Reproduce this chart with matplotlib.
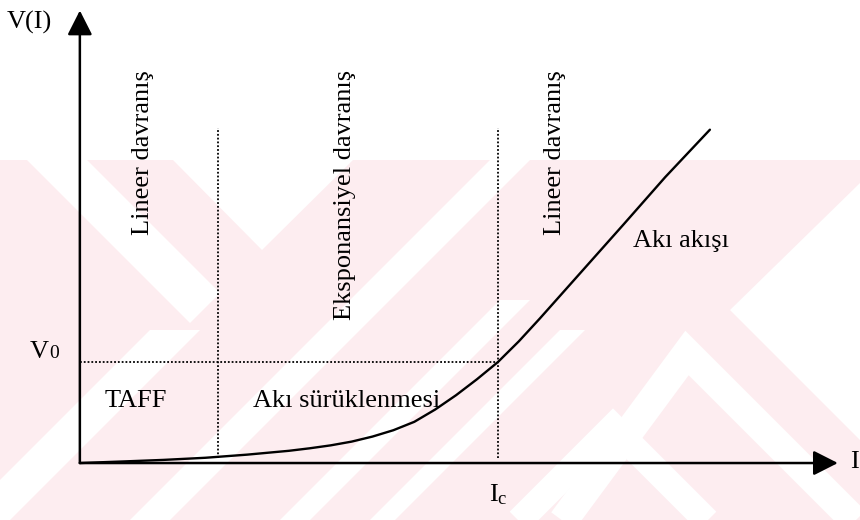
import matplotlib.pyplot as plt
from matplotlib.patches import Polygon

plt.rcParams["font.family"] = ["Liberation Serif", "DejaVu Serif"]
plt.rcParams["mathtext.fontset"] = "custom"
plt.rcParams["mathtext.rm"] = "Liberation Serif"
plt.rcParams["mathtext.it"] = "Liberation Serif:italic"

# V(I) characteristic, current in units of Ic and voltage in units of V0
current = [0.0, 0.1, 0.2, 0.3, 0.4, 0.5, 0.55, 0.6, 0.65, 0.7, 0.75, 0.8,
           0.85, 0.9, 0.95, 1.0, 1.05, 1.1, 1.2, 1.3, 1.4, 1.507]
voltage = [0.0, 0.015, 0.031, 0.052, 0.083, 0.121, 0.146, 0.175, 0.212,
           0.262, 0.325, 0.408, 0.530, 0.672, 0.830, 1.0, 1.205, 1.430,
           1.895, 2.360, 2.830, 3.300]

I_C = 1.0          # critical current
V_0 = 1.0          # voltage at Ic
I_TAFF = 0.330     # end of the TAFF region
REGION_TOP = 3.317 # height of the region separators
I_MAX = 1.813      # x arrow tip
V_MAX = 4.48       # y arrow tip

region_labels = ["Lineer davranış", "Eksponansiyel davranış", "Lineer davranış"]
regime_labels = ["TAFF", "Akı sürüklenmesi", "Akı akışı"]

PINK = "#fdedf0"
FS = 19

fig = plt.figure(figsize=(8.6, 5.2), dpi=100)

# background pattern (pixel coordinates, y pointing down)
bg = fig.add_axes([0, 0, 1, 1], zorder=0)
bg.set_xlim(0, 860)
bg.set_ylim(520, 0)
bg.axis("off")
bg.add_patch(Polygon([(0, 160), (860, 160), (860, 520), (0, 520)],
                     closed=True, fc=PINK, ec="none"))


def white(poly):
    bg.add_patch(Polygon(poly, closed=True, fc="white", ec="none"))


def slash(c1, c2, ya, yb):
    # white band between the lines x + y = c1 and x + y = c2
    white([(c1 - yb, yb), (c2 - yb, yb), (c2 - ya, ya), (c1 - ya, ya)])


white([(27, 160), (87, 160), (220, 293), (190, 323)])
white([(173, 160), (353, 160), (262, 250)])
white([(730, 310), (860, 183), (860, 440)])
slash(480, 530, 330, 520)
slash(650, 690, 160, 520)
slash(800, 830, 300, 520)
slash(890, 915, 330, 520)
bg.plot([560, 687, 860], [525, 353, 526], color="white", lw=21,
        solid_joinstyle="miter", solid_capstyle="butt")
bg.plot([515, 613, 712], [525, 427, 526], color="white", lw=19,
        solid_joinstyle="miter", solid_capstyle="butt")

ax = fig.add_axes([0, 0, 1, 1], zorder=1)
ax.patch.set_alpha(0)
ax.set_xlim(-0.191, 1.866)
ax.set_ylim(-0.564, 4.584)
ax.axis("off")

# axes with arrow heads
arrow = dict(arrowstyle="-|>,head_length=0.75,head_width=0.38",
             mutation_scale=20, lw=1.8, color="black",
             shrinkA=0, shrinkB=0)
ax.annotate("", xy=(0, V_MAX), xytext=(0, 0), arrowprops=arrow)
ax.annotate("", xy=(I_MAX, 0), xytext=(0, 0), arrowprops=arrow)

# region separators and V0 level
dots = dict(color="black", lw=1.3, linestyle=(0, (1, 1.1)))
ax.plot([I_TAFF, I_TAFF], [0.05, REGION_TOP], **dots)
ax.plot([I_C, I_C], [0.05, REGION_TOP], **dots)
ax.plot([0, I_C], [V_0, V_0], **dots)

ax.plot(current, voltage, color="black", lw=1.7, solid_joinstyle="round",
        solid_capstyle="round")

# axis labels
ax.text(-0.175, 4.366, "V(I)", fontsize=FS, ha="left", va="center")
ax.text(1.852, 0.01, "I", fontsize=FS, ha="center", va="center")
ax.text(I_C, -0.19, r"$\mathrm{I_c}$", fontsize=FS, ha="center", va="top")
ax.annotate("V", xy=(-0.074, 1.04), fontsize=FS, ha="right", va="baseline")
ax.annotate("0", xy=(-0.074, 1.04), fontsize=14, ha="left", va="baseline")

# regime labels
for x, label in zip([0.151, 0.634, 1.136], region_labels):
    ax.text(x, 3.891, label, fontsize=FS, rotation=90, ha="center", va="top")
ax.text(0.134, 0.554, regime_labels[0], fontsize=FS, ha="center", va="baseline")
ax.text(0.639, 0.554, regime_labels[1], fontsize=FS, ha="center", va="baseline")
ax.text(1.323, 2.139, regime_labels[2], fontsize=FS, ha="left", va="baseline")

fig.savefig("out.png", dpi=100)
